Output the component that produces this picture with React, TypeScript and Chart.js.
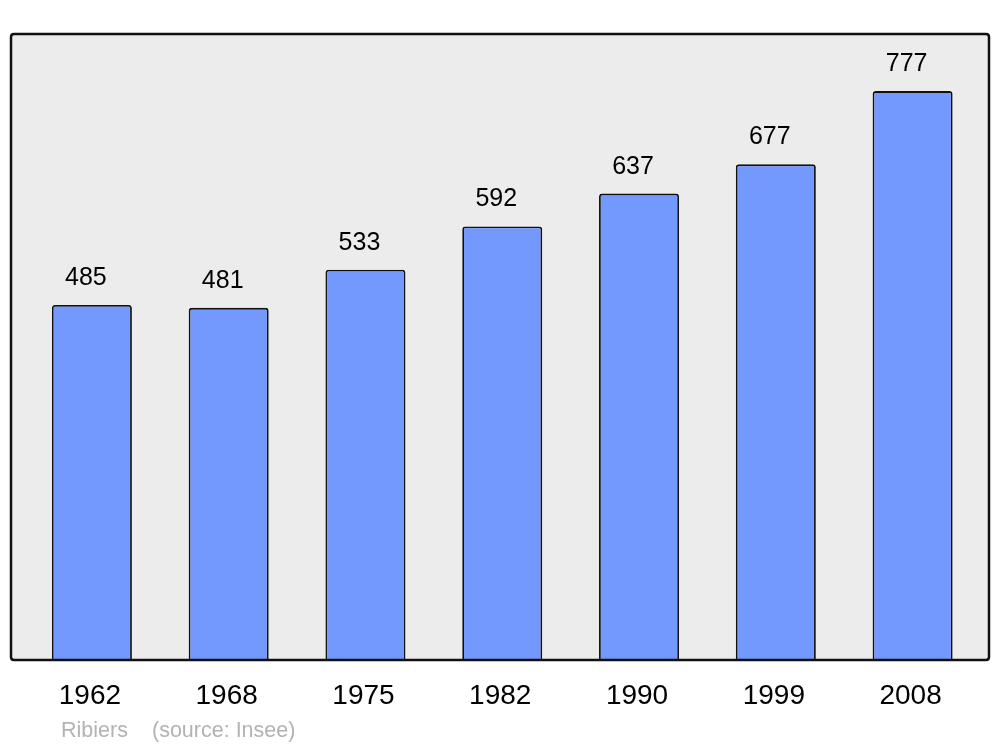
import React, { useEffect, useRef } from "react";
import { Chart, registerables } from "chart.js";

Chart.register(...registerables);

const years = ["1962", "1968", "1975", "1982", "1990", "1999", "2008"];
const population = [485, 481, 533, 592, 637, 677, 777];
const yMax = 855;
const townName = "Ribiers";
const sourceText = "(source: Insee)";

const FONT = "'Liberation Sans', Arial, sans-serif";

function roundRect(ctx: CanvasRenderingContext2D, x: number, y: number, w: number, h: number, r: number) {
  ctx.beginPath();
  ctx.moveTo(x + r, y);
  ctx.lineTo(x + w - r, y);
  ctx.quadraticCurveTo(x + w, y, x + w, y + r);
  ctx.lineTo(x + w, y + h - r);
  ctx.quadraticCurveTo(x + w, y + h, x + w - r, y + h);
  ctx.lineTo(x + r, y + h);
  ctx.quadraticCurveTo(x, y + h, x, y + h - r);
  ctx.lineTo(x, y + r);
  ctx.quadraticCurveTo(x, y, x + r, y);
  ctx.closePath();
}

const FRAME = { left: 11, top: 34, right: 989, bottom: 660 };

const framePlugin = {
  id: "frame",
  beforeDatasetsDraw(chart: any) {
    const ctx = chart.ctx as CanvasRenderingContext2D;
    ctx.save();
    roundRect(ctx, FRAME.left, FRAME.top, FRAME.right - FRAME.left, FRAME.bottom - FRAME.top, 3);
    ctx.fillStyle = "#ececec";
    ctx.fill();
    ctx.restore();
  },
  afterDatasetsDraw(chart: any) {
    const ctx = chart.ctx as CanvasRenderingContext2D;
    ctx.save();
    roundRect(ctx, FRAME.left, FRAME.top, FRAME.right - FRAME.left, FRAME.bottom - FRAME.top, 3);
    ctx.lineWidth = 2.5;
    ctx.strokeStyle = "#111111";
    ctx.stroke();

    const meta = chart.getDatasetMeta(0);
    const xScale = chart.scales.x;
    ctx.fillStyle = "#000000";
    ctx.textAlign = "center";
    ctx.textBaseline = "middle";
    ctx.font = `25px ${FONT}`;
    meta.data.forEach((bar: any, i: number) => {
      ctx.fillText(String(population[i]), bar.x - 6, bar.y - 27);
    });
    ctx.font = `28px ${FONT}`;
    years.forEach((y, i) => {
      ctx.fillText(y, xScale.getPixelForTick(i) - 2, 696);
    });
    ctx.fillStyle = "#b3b3b3";
    ctx.textAlign = "left";
    ctx.font = `21.5px ${FONT}`;
    ctx.fillText(townName, 61, 731);
    ctx.fillText(sourceText, 152, 731);
    ctx.restore();
  },
};

export default function App() {
  const ref = useRef<HTMLCanvasElement>(null);
  useEffect(() => {
    document.body.style.margin = "0";
    const chart = new Chart(ref.current!, {
      type: "bar",
      data: {
        labels: years,
        datasets: [
          {
            data: population,
            backgroundColor: "#7399ff",
            borderColor: "#111111",
            borderWidth: 1.8,
            borderSkipped: "bottom",
            borderRadius: { topLeft: 3, topRight: 3, bottomLeft: 0, bottomRight: 0 },
            barPercentage: 0.585,
            categoryPercentage: 1,
          },
        ],
      },
      options: {
        animation: false,
        responsive: false,
        devicePixelRatio: 1,
        layout: { padding: { left: 23.5, right: 19, top: 34, bottom: 87 } },
        plugins: { legend: { display: false }, tooltip: { enabled: false } },
        scales: {
          x: { display: false, offset: true },
          y: { display: false, min: 0, max: yMax },
        },
      },
      plugins: [framePlugin],
    });
    return () => chart.destroy();
  }, []);
  return <canvas ref={ref} width={1000} height={747} style={{ display: "block", width: 1000, height: 747 }} />;
}
